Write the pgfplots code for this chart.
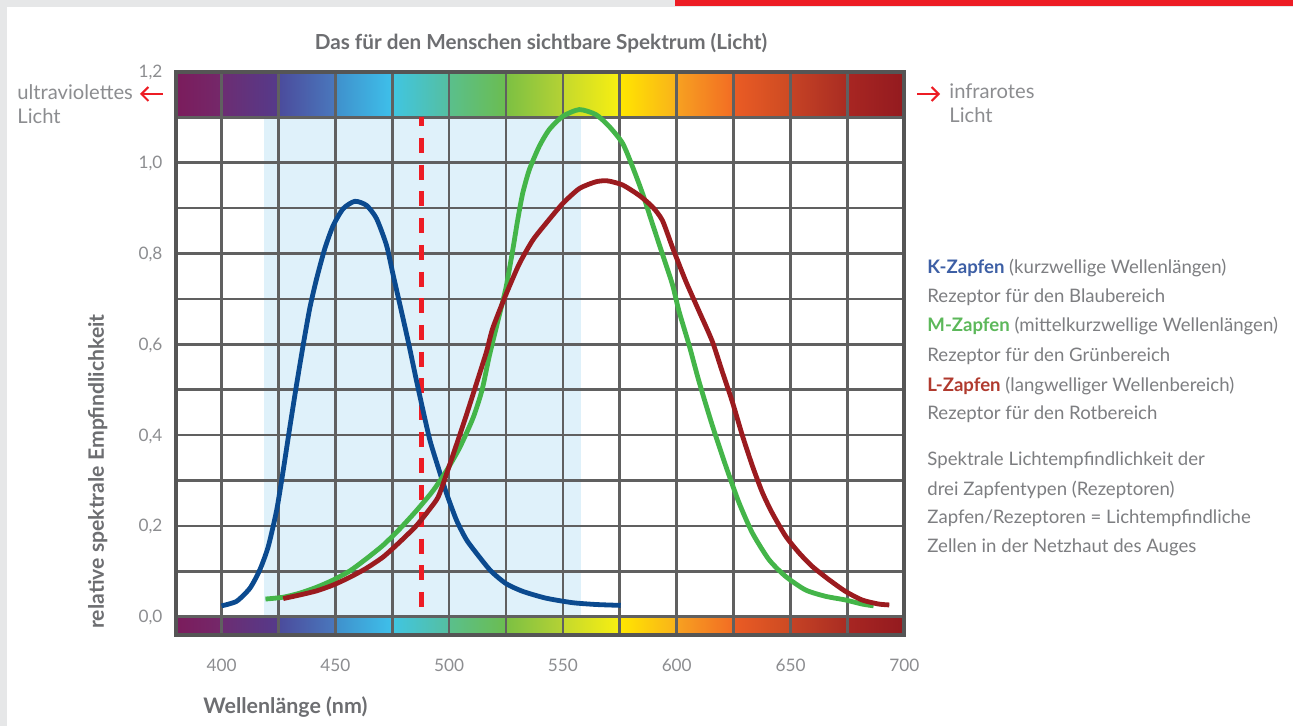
\documentclass[border=0pt]{standalone}
\usepackage{fontspec}
\setmainfont{Lato}
\usepackage{pgfplots}
\pgfplotsset{compat=1.18}
\usetikzlibrary{arrows.meta}

\definecolor{bggray}{HTML}{E6E7E8}
\definecolor{topred}{HTML}{ED1C24}
\definecolor{framegray}{HTML}{555555}
\definecolor{gridgray}{HTML}{606060}
\definecolor{band}{HTML}{DFF1FA}
\definecolor{titlegray}{HTML}{6D6E71}
\definecolor{textgray}{HTML}{7D7E81}
\definecolor{lightgray}{HTML}{8C8D90}
\definecolor{kblue}{HTML}{0B4A8F}
\definecolor{mgreen}{HTML}{44B549}
\definecolor{lred}{HTML}{9B1B1F}
\definecolor{kleg}{HTML}{3D5FA5}
\definecolor{mleg}{HTML}{5CB85A}
\definecolor{lleg}{HTML}{B03A2E}

% spectrum cells, left and right colour
\definecolor{s1a}{HTML}{7B1C5C}\definecolor{s1b}{HTML}{74286A}
\definecolor{s2a}{HTML}{6C2D72}\definecolor{s2b}{HTML}{553A8A}
\definecolor{s3a}{HTML}{4B4B9C}\definecolor{s3b}{HTML}{4A78BD}
\definecolor{s4a}{HTML}{3F90CC}\definecolor{s4b}{HTML}{3EC0EA}
\definecolor{s5a}{HTML}{40C5E2}\definecolor{s5b}{HTML}{55BFA0}
\definecolor{s6a}{HTML}{5ABF8C}\definecolor{s6b}{HTML}{6BBD50}
\definecolor{s7a}{HTML}{7CC043}\definecolor{s7b}{HTML}{B5D234}
\definecolor{s8a}{HTML}{C5D92D}\definecolor{s8b}{HTML}{F8EF10}
\definecolor{s9a}{HTML}{FFE600}\definecolor{s9b}{HTML}{F9B21A}
\definecolor{s10a}{HTML}{F7A121}\definecolor{s10b}{HTML}{F26C23}
\definecolor{s11a}{HTML}{EA5C24}\definecolor{s11b}{HTML}{CD4A23}
\definecolor{s12a}{HTML}{C64325}\definecolor{s12b}{HTML}{A92C22}
\definecolor{s13a}{HTML}{A82622}\definecolor{s13b}{HTML}{931A1F}

\newcommand{\cell}[3]{%
  \shade[left color=#3a,right color=#3b] (axis cs:#1,1.1) rectangle (axis cs:#2,1.2);
  \shade[left color=#3a,right color=#3b] (axis cs:#1,-0.04) rectangle (axis cs:#2,0);}

\begin{document}
\begin{tikzpicture}
\begin{axis}[
  at={(88pt,45.55pt)}, anchor=south west,
  scale only axis, width=364.15pt, height=281.5pt,
  xmin=380, xmax=700, ymin=-0.04, ymax=1.2,
  set layers=standard, clip=false,
  axis line style={draw=framegray, line width=2.15pt},
  xtick={400,450,...,700},
  minor xtick={425,475,...,675},
  ytick={0,0.2,0.4,0.6,0.8,1.0,1.2},
  minor ytick={0.1,0.3,0.5,0.7,0.9,1.1},
  major tick length=0pt, minor tick length=0pt,
  grid=both,
  major grid style={draw=gridgray, line width=1.35pt},
  minor grid style={draw=gridgray, line width=1.35pt},
  tick label style={font=\fontsize{8.6}{10}\selectfont, text=lightgray},
  /pgf/number format/assume math mode=true,
  yticklabel style={/pgf/number format/use comma, /pgf/number format/fixed,
    /pgf/number format/fixed zerofill, /pgf/number format/precision=1,
    anchor=base east, inner sep=0pt, xshift=-6.6pt, yshift=-3pt},
  xticklabel style={anchor=base, inner sep=0pt, yshift=-18.5pt},
  line join=round,
]
\begin{pgfonlayer}{axis background}
  % page background (1293 x 726 px around the plot box)
  \fill[bggray] (rel axis cs:-0.24166,-0.16181) rectangle (rel axis cs:1.53371,1.12771);
  \fill[white] (rel axis cs:-0.23205,-0.16181) rectangle (rel axis cs:1.53371,1.11528);
  \fill[topred] (rel axis cs:0.68516,1.11705) rectangle (rel axis cs:1.53371,1.12771);
  \fill[band] (axis cs:418.6,0) rectangle (axis cs:558,1.1);
  \cell{380}{400}{s1}\cell{400}{425}{s2}\cell{425}{450}{s3}\cell{450}{475}{s4}
  \cell{475}{500}{s5}\cell{500}{525}{s6}\cell{525}{550}{s7}\cell{550}{575}{s8}
  \cell{575}{600}{s9}\cell{600}{625}{s10}\cell{625}{650}{s11}\cell{650}{675}{s12}
  \cell{675}{700}{s13}
\end{pgfonlayer}

% red dashed line
\addplot[draw=topred, line width=2.5pt, dash pattern=on 7.5pt off 5.85pt, dash phase=3pt]
  coordinates {(487.8,1.1) (487.8,0.008)};

% K-Zapfen
\addplot[draw=kblue, line width=2.4pt, smooth, tension=0.4] coordinates {
 (400,0.024) (406.6,0.034) (412.5,0.063) (416.8,0.103) (420.5,0.154) (424.2,0.234)
 (427.1,0.322) (430,0.417) (433,0.512) (435.9,0.599) (438.8,0.680) (441.8,0.745)
 (445.4,0.811) (449.1,0.862) (453.5,0.899) (458.6,0.915) (463.7,0.906) (468.1,0.877)
 (472.5,0.818) (475.4,0.753) (478.4,0.687) (482,0.607) (485.7,0.519) (488.6,0.453)
 (491.6,0.388) (495.2,0.329) (498.9,0.271) (503.3,0.212) (507.7,0.169) (513.4,0.131)
 (518.5,0.100) (525,0.073) (532.3,0.056) (542.5,0.041) (554.2,0.031) (564.5,0.027)
 (575.4,0.025)};

% M-Zapfen
\addplot[draw=mgreen, line width=2.4pt, smooth, tension=0.4] coordinates {
 (419.3,0.039) (427.1,0.043) (434.4,0.052) (441.8,0.065) (449.1,0.081) (456.4,0.101)
 (463.7,0.128) (471.1,0.158) (478.4,0.194) (485.7,0.234) (493,0.278) (498.9,0.322)
 (504.7,0.373) (510.6,0.439) (514.5,0.500) (517.7,0.575) (522.1,0.665) (525,0.725)
 (527.9,0.806) (530.1,0.873) (532.3,0.932) (535.2,0.984) (539.6,1.036) (544,1.073)
 (549.9,1.102) (557.2,1.117) (564.5,1.106) (570.3,1.080) (576.2,1.043) (580.6,0.991)
 (585,0.932) (589.3,0.866) (593.7,0.799) (598.1,0.732) (601,0.673) (605.4,0.599)
 (609.8,0.518) (615.6,0.422) (621.5,0.333) (627.3,0.252) (633.2,0.185) (640.5,0.126)
 (647.8,0.089) (656.6,0.059) (665.4,0.045) (674.1,0.037) (681.4,0.028) (686.5,0.024)};

% L-Zapfen
\addplot[draw=lred, line width=2.4pt, smooth, tension=0.4] coordinates {
 (427.1,0.040) (434.4,0.048) (441.8,0.057) (449.1,0.070) (456.4,0.087) (463.7,0.107)
 (471.1,0.132) (478.4,0.165) (485.7,0.201) (491.6,0.238) (495.2,0.264) (498.9,0.315)
 (503.3,0.380) (507.7,0.446) (512.1,0.515) (516.5,0.585) (519.2,0.636) (525,0.710)
 (530.8,0.777) (536.7,0.829) (542.5,0.866) (549.9,0.910) (557.2,0.943) (564.5,0.958)
 (569.6,0.960) (576.2,0.951) (583.5,0.928) (589.3,0.903) (593.7,0.873) (598.1,0.814)
 (603.9,0.740) (609.8,0.673) (615.6,0.607) (620,0.540) (624.4,0.474) (628.8,0.400)
 (633.2,0.333) (637.6,0.274) (641.9,0.229) (647.8,0.178) (653.7,0.141) (659.5,0.111)
 (666.8,0.082) (674.1,0.056) (681.4,0.037) (688.7,0.028) (693.4,0.026)};
\end{axis}

\begin{scope}[x=0.5pt,y=-0.5pt,shift={(0pt,363pt)}]
  \node[anchor=base, inner sep=0pt, text=titlegray, font=\fontsize{10.35}{12}\selectfont\bfseries]
    at (541,49.3) {Das für den Menschen sichtbare Spektrum (Licht)};
  \node[anchor=base west, inner sep=0pt, text=titlegray, font=\fontsize{10.7}{12}\selectfont\bfseries]
    at (203,713) {Wellenlänge (nm)};
  \node[anchor=base, rotate=90, inner sep=0pt, text=titlegray, font=\fontsize{10.6}{12}\selectfont\bfseries]
    at (104,471.5) {relative spektrale Empfindlichkeit};
  % side notes
  \begin{scope}[every node/.style={anchor=base west, inner sep=0pt, text=lightgray, font=\fontsize{10.1}{12}\selectfont}]
    \node at (17,100) {ultraviolettes};
    \node at (17,124) {Licht};
    \node at (949,99) {infrarotes};
    \node at (949,122.7) {Licht};
  \end{scope}
  \draw[topred, line width=1pt, -{Straight Barb[length=3.5pt,width=7pt]}] (163,94) -- (140,94);
  \draw[topred, line width=1pt, -{Straight Barb[length=3.5pt,width=7pt]}] (917,94) -- (940,94);
  % legend text
  \begin{scope}[every node/.style={anchor=base west, inner sep=0pt, text=textgray, font=\fontsize{9.3}{12}\selectfont}]
    \node at (927,273.7) {\textbf{\color{kleg}K-Zapfen} (kurzwellige Wellenlängen)};
    \node at (927,303) {Rezeptor für den Blaubereich};
    \node at (927,332) {\textbf{\color{mleg}M-Zapfen} (mittelkurzwellige Wellenlängen)};
    \node at (927,361.3) {Rezeptor für den Grünbereich};
    \node at (927,391) {\textbf{\color{lleg}L-Zapfen} (langwelliger Wellenbereich)};
    \node at (927,419.7) {Rezeptor für den Rotbereich};
    \node at (927,465.3) {Spektrale Lichtempfindlichkeit der};
    \node at (927,495.3) {drei Zapfentypen (Rezeptoren)};
    \node at (927,523.7) {Zapfen/Rezeptoren = Lichtempfindliche};
    \node at (927,552) {Zellen in der Netzhaut des Auges};
  \end{scope}
\end{scope}
\end{tikzpicture}
\end{document}
